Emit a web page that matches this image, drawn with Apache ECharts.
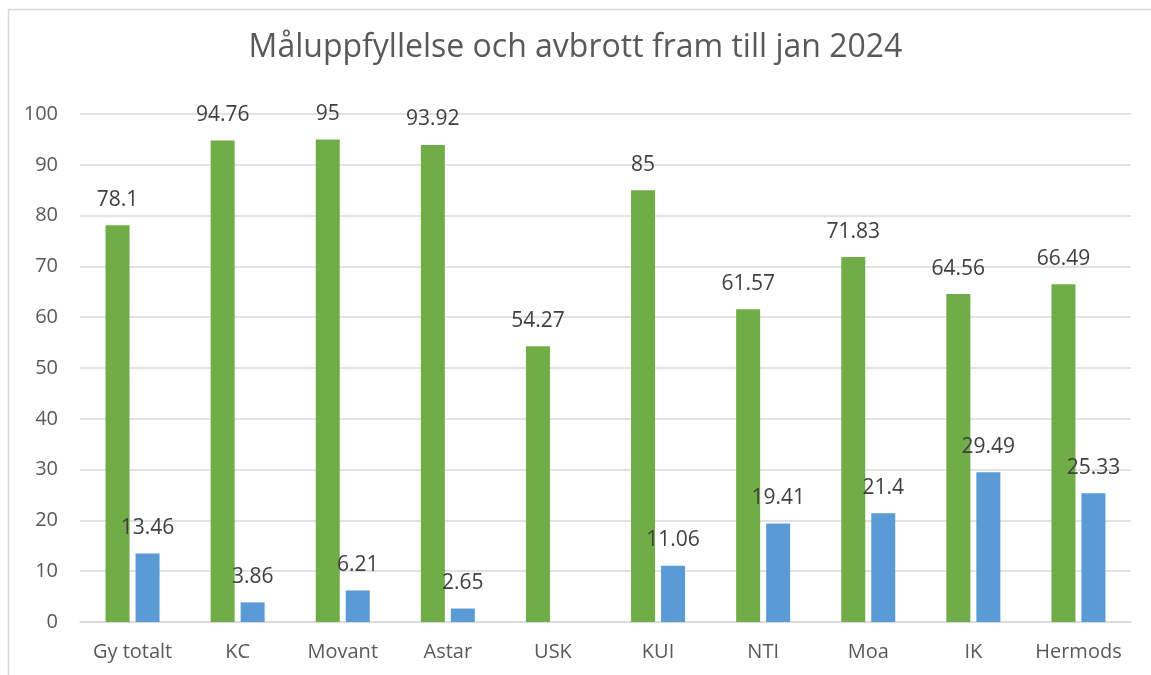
<!DOCTYPE html>
<html>
<head>
<meta charset="utf-8">
<script src="https://cdn.jsdelivr.net/npm/echarts@6/dist/echarts.min.js"></script>
<style>
  html, body { margin: 0; padding: 0; background: #fff; }
  #chart { width: 1151px; height: 675px; }
</style>
</head>
<body>
<div id="chart"></div>
<script>
const categories = ['Gy totalt', 'KC', 'Movant', 'Astar', 'USK', 'KUI', 'NTI', 'Moa', 'IK', 'Hermods']
const maluppfyllelse = [78.1, 94.76, 95, 93.92, 54.27, 85, 61.57, 71.83, 64.56, 66.49]
const avbrott = [13.46, 3.86, 6.21, 2.65, null, 11.06, 19.41, 21.4, 29.49, 25.33]

const font = 'Open Sans'
const myChart = echarts.init(document.getElementById('chart'))

const label = {
    show: true,
    position: 'top',
    distance: 15,
    color: '#404040',
    fontSize: 21,
    fontFamily: font
}

myChart.setOption({
    animation: false,
    title: {
        text: 'Måluppfyllelse och avbrott fram till jan 2024',
        left: 'center',
        top: 27,
        textStyle: { color: '#595959', fontSize: 32, fontWeight: 'normal', fontFamily: font }
    },
    graphic: [{
        type: 'rect',
        shape: { x: 8.5, y: 9.5, width: 1160, height: 700 },
        style: { fill: 'none', stroke: '#d9d9d9', lineWidth: 1.5 },
        silent: true
    }],
    grid: { left: 80, right: 20, top: 114, bottom: 53 },
    xAxis: {
        type: 'category',
        data: categories,
        axisLine: { lineStyle: { color: '#d9d9d9', width: 1.5 } },
        axisTick: { show: false },
        axisLabel: { interval: 0, color: '#595959', fontSize: 20, fontFamily: font, margin: 20 }
    },
    yAxis: {
        type: 'value',
        min: 0,
        max: 100,
        interval: 10,
        axisLine: { show: false },
        axisTick: { show: false },
        splitLine: { lineStyle: { color: '#d9d9d9', width: 1.5 } },
        axisLabel: { color: '#595959', fontSize: 20, fontFamily: font, margin: 22 }
    },
    series: [
        {
            name: 'Måluppfyllelse',
            type: 'bar',
            data: maluppfyllelse,
            barWidth: 24,
            barGap: '25%',
            itemStyle: { color: '#70ad47' },
            label: label
        },
        {
            name: 'Avbrott',
            type: 'bar',
            data: avbrott,
            barWidth: 24,
            itemStyle: { color: '#5b9bd5' },
            label: label
        }
    ]
})
</script>
</body>
</html>
